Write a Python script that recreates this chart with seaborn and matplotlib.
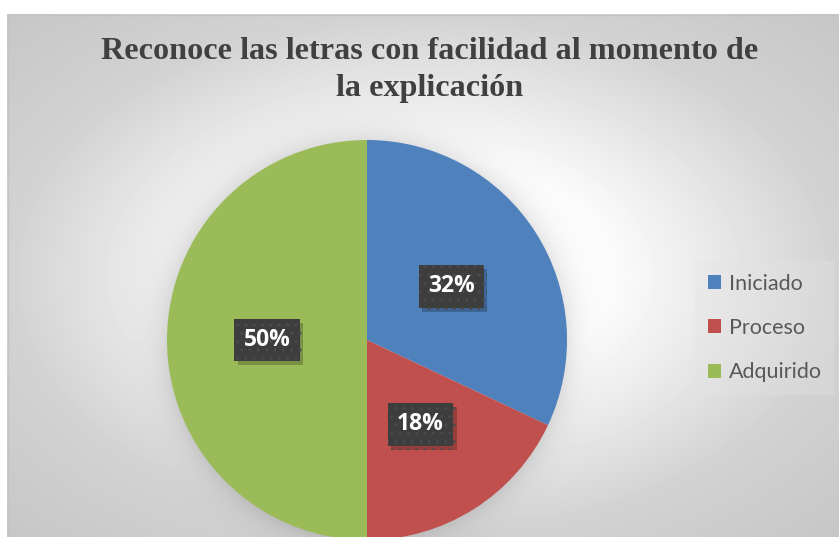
import numpy as np
import matplotlib
matplotlib.use("Agg")
import matplotlib.pyplot as plt
import seaborn as sns
from matplotlib import patheffects as pe

# ---- data ----
categories = ["Iniciado", "Proceso", "Adquirido"]
values = [32, 18, 50]
colors = ["#4F81BD", "#C0504D", "#9BBB59"]
title = "Reconoce las letras con facilidad al momento de\nla explicación"

sns.set_theme(style="white")
plt.rcParams['font.family'] = ['Lato', 'DejaVu Sans']

W, H = 839, 537
fig = plt.figure(figsize=(W / 100, H / 100), dpi=100)
fig.patch.set_facecolor('white')

# ---- background (radial gradient + soft pie halo) ----
bg = fig.add_axes([0, 0, 1, 1])
bg.set_axis_off()
yy, xx = np.mgrid[0:H, 0:W] + 0.5
cx, cy = 423, 276
d = np.sqrt(((xx - cx) / 416) ** 2 + ((yy - cy) / 262) ** 2)
g = np.interp(d, [0, 0.45, 1.0, 1.45], [255, 252, 210, 197])
r = np.hypot(xx - 367, yy - 340)
halo = 26 * np.exp(-np.clip(r - 199, 0, None) / 13.0)
g = np.clip(g - halo, 0, 255)
g[(xx < 7) | (yy < 14)] = 255
bg.imshow(g, cmap='gray', vmin=0, vmax=255, extent=(0, W, H, 0), interpolation='bilinear')
bg.set_xlim(0, W)
bg.set_ylim(H, 0)
bg.plot([7.5, 7.5], [H, 14.5], color='#c4c4c4', lw=1)
bg.plot([7.5, W], [14.5, 14.5], color='#c4c4c4', lw=1)

# ---- pie ----
R = 200
ax = fig.add_axes([(367 - R) / W, (H - 340 - R) / H, 2 * R / W, 2 * R / H])
ax.patch.set_visible(False)
wedges, texts, autotexts = ax.pie(
    values, colors=colors, startangle=90, counterclock=False, radius=1,
    autopct=lambda p: f"{p:.0f}%", pctdistance=0.5,
    wedgeprops=dict(linewidth=0),
    textprops=dict(color='white', fontsize=16.5, fontweight='bold',
                   family=['Open Sans', 'DejaVu Sans']))
ax.set_xlim(-1, 1)
ax.set_ylim(-1, 1)
ax.set_aspect('equal', adjustable='datalim')
for t in autotexts:
    t.set_bbox(dict(boxstyle='square,pad=0.4', facecolor='#3d3d3d',
                    edgecolor='#4a4a4a', linewidth=0, hatch='..'))
    t.get_bbox_patch().set_path_effects([
        pe.SimplePatchShadow(offset=(2.5, -3), shadow_rgbFace='black', alpha=0.22),
        pe.Normal()])

# ---- title ----
fig.text(430 / W, 1 - 37 / H, title, ha='center', va='top', fontsize=23.2,
         family=['Liberation Serif', 'DejaVu Serif'], fontweight='bold',
         color='#404040', linespacing=1.35)

# ---- legend ----
leg = fig.legend(wedges, categories, loc='center left',
                 bbox_to_anchor=(684 / W, 1 - 328 / H), frameon=True,
                 fontsize=15.5, labelspacing=1.12, handlelength=0.62,
                 handleheight=0.62, handletextpad=0.35, borderpad=0.6,
                 fancybox=False)
leg.get_frame().set_facecolor('#e4e4e4')
leg.get_frame().set_edgecolor('none')
leg.get_frame().set_alpha(0.3)
for txt in leg.get_texts():
    txt.set_color('#595959')

fig.savefig('out.png', dpi=100)
